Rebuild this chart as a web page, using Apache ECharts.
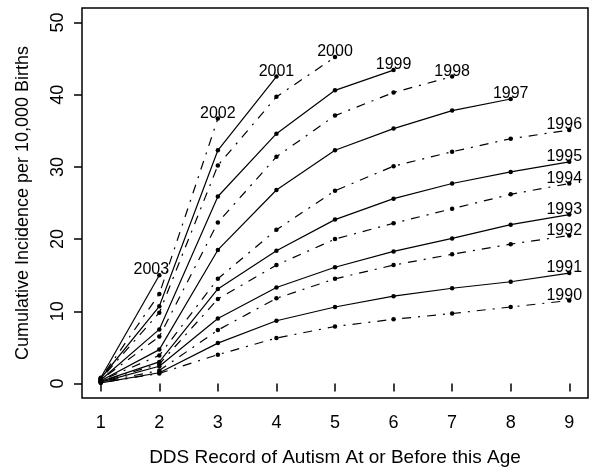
<!DOCTYPE html>
<html>
<head>
<meta charset="utf-8">
<script src="https://cdn.jsdelivr.net/npm/echarts@6/dist/echarts.min.js"></script>
<style>
  html, body { margin: 0; padding: 0; background: #fff; }
  #chart { width: 589px; height: 468px; }
</style>
</head>
<body>
<div id="chart"></div>
<script>
// ages (x) and tick labels
const ages = [1, 2, 3, 4, 5, 6, 7, 8, 9]
const yTicks = [0, 10, 20, 30, 40, 50]

// cumulative incidence per 10,000 births, by birth cohort
const c1990 = [0.1, 1.4, 4.0, 6.3, 7.9, 8.9, 9.7, 10.6, 11.5]
const c1991 = [0.1, 1.5, 5.6, 8.7, 10.6, 12.1, 13.2, 14.1, 15.3]
const c1992 = [0.2, 1.8, 7.4, 11.8, 14.5, 16.4, 17.9, 19.3, 20.5]
const c1993 = [0.2, 2.4, 9.0, 13.3, 16.1, 18.3, 20.1, 22.0, 23.4]
const c1994 = [0.3, 2.7, 11.7, 16.4, 20.0, 22.2, 24.2, 26.2, 27.7]
const c1995 = [0.3, 3.0, 13.1, 18.4, 22.7, 25.6, 27.7, 29.3, 30.7]
const c1996 = [0.4, 3.9, 14.5, 21.3, 26.7, 30.1, 32.1, 33.9, 35.1]
const c1997 = [0.4, 4.7, 18.5, 26.8, 32.3, 35.3, 37.8, 39.4]
const c1998 = [0.5, 6.5, 22.3, 31.4, 37.1, 40.3, 42.5]
const c1999 = [0.5, 7.5, 25.9, 34.6, 40.6, 43.4]
const c2000 = [0.6, 9.8, 30.2, 39.7, 45.2]
const c2001 = [0.7, 10.7, 32.3, 42.5]
const c2002 = [0.7, 12.4, 36.7]
const c2003 = [0.8, 15.0]

const cohorts = [
  ['1990', c1990], ['1991', c1991], ['1992', c1992], ['1993', c1993],
  ['1994', c1994], ['1995', c1995], ['1996', c1996], ['1997', c1997],
  ['1998', c1998], ['1999', c1999], ['2000', c2000], ['2001', c2001],
  ['2002', c2002], ['2003', c2003],
]

const font = "'Liberation Sans', Arial, Helvetica, sans-serif"
const dotDash = [2, 7, 9, 7]

const series = cohorts.map(([name, vals]) => {
  const odd = Number(name) % 2 === 1
  const data = vals.map((v, i) => [ages[i], v])
  const last = data.length - 1
  // year label sits just above the last point, nudged left near the edges
  const dx = ages[last] === 9 ? -5 : (name === '2003' ? -8 : 0)
  data[last] = {
    value: data[last],
    label: {
      show: true,
      position: 'top',
      distance: 0,
      offset: [dx, 5],
      formatter: name,
      color: '#000',
      fontFamily: font,
      fontSize: 16,
    }
  }
  return {
    type: 'line',
    name,
    data,
    symbol: 'circle',
    symbolSize: 4.5,
    itemStyle: { color: '#000' },
    lineStyle: { color: '#000', width: 1.2, type: odd ? 'solid' : dotDash },
    emphasis: { disabled: true },
  }
})

const myChart = echarts.init(document.getElementById('chart'))
const option = {
  animation: false,
  backgroundColor: '#fff',
  grid: {
    left: 82, right: 1, top: 8, bottom: 70,
    outerBoundsMode: 'none',
    show: true, borderColor: '#000', borderWidth: 1.5,
  },
  xAxis: {
    type: 'value',
    min: 0.68, max: 9.32,
    name: 'DDS Record of Autism At or Before this Age',
    nameLocation: 'middle',
    nameGap: 50,
    nameTextStyle: { color: '#000', fontFamily: font, fontSize: 19 },
    axisLine: { show: false },
    splitLine: { show: false },
    axisTick: { show: true, length: 8, customValues: ages, lineStyle: { color: '#000', width: 1.5 } },
    axisLabel: { customValues: ages, color: '#000', fontFamily: font, fontSize: 18, margin: 16 },
  },
  yAxis: {
    type: 'value',
    min: -2, max: 52,
    name: 'Cumulative Incidence per 10,000 Births',
    nameLocation: 'middle',
    nameGap: 50,
    nameRotate: 90,
    nameTextStyle: { color: '#000', fontFamily: font, fontSize: 18 },
    axisLine: { show: false },
    splitLine: { show: false },
    axisTick: { show: true, length: 8, customValues: yTicks, lineStyle: { color: '#000', width: 1.5 } },
    axisLabel: { customValues: yTicks, rotate: 90, color: '#000', fontFamily: font, fontSize: 18, margin: 15 },
  },
  series,
}
myChart.setOption(option)
</script>
</body>
</html>
